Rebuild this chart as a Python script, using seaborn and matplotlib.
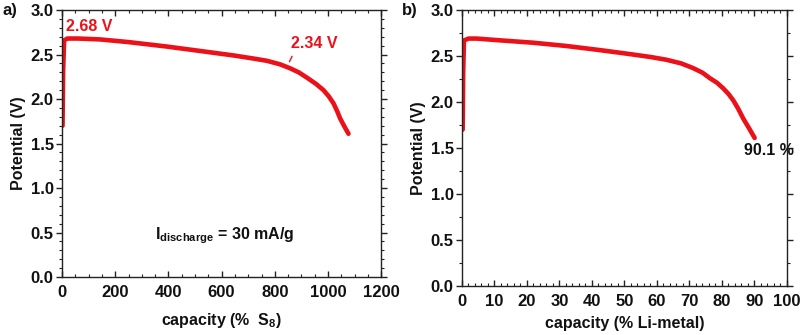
import matplotlib
matplotlib.use("Agg")
import matplotlib.pyplot as plt
import seaborn as sns
import pandas as pd
from matplotlib.ticker import MultipleLocator

# Panel a: capacity (% S8) vs potential (V)
cap_s8 = [2, 4, 8, 20, 60, 143, 250, 394, 520, 645, 720, 770, 820, 858, 890, 921,
          955, 983, 1003, 1021, 1035, 1046, 1062, 1077]
pot_a = [1.70, 2.30, 2.66, 2.68, 2.68, 2.67, 2.64, 2.59, 2.54, 2.49, 2.455, 2.43, 2.39,
         2.345, 2.30, 2.24, 2.17, 2.10, 2.03, 1.95, 1.86, 1.78, 1.69, 1.61]

# Panel b: capacity (% Li-metal) vs potential (V)
cap_li = [0.2, 0.35, 0.6, 2.0, 4.5, 12.0, 21.9, 32.0, 42.4, 52.0, 58.0, 62.9, 67.5,
          71.1, 74.0, 76.3, 78.5, 80.4, 82.0, 83.5, 85.0, 86.6, 88.3, 90.1]
pot_b = [1.70, 2.30, 2.67, 2.69, 2.69, 2.67, 2.645, 2.61, 2.565, 2.52, 2.49, 2.46, 2.42,
         2.37, 2.32, 2.26, 2.21, 2.15, 2.09, 2.02, 1.93, 1.82, 1.72, 1.61]

xticks_a = [0, 200, 400, 600, 800, 1000, 1200]
xticks_b = [0, 10, 20, 30, 40, 50, 60, 70, 80, 90, 100]
yticks = [0.0, 0.5, 1.0, 1.5, 2.0, 2.5, 3.0]

sns.set_theme(style="white")
plt.rcParams['font.family'] = ['Liberation Sans', 'DejaVu Sans']
plt.rcParams['font.weight'] = 'bold'
plt.rcParams['mathtext.fontset'] = 'custom'
plt.rcParams['mathtext.rm'] = 'Liberation Sans:bold'
plt.rcParams['mathtext.bf'] = 'Liberation Sans:bold'

RED = '#ec1019'
TK = 12
fig = plt.figure(figsize=(8, 3.35), dpi=100)
ax1 = fig.add_axes([0.0775, 0.173, 0.399, 0.797])
ax2 = fig.add_axes([0.5775, 0.146, 0.406, 0.824])

df_a = pd.DataFrame({'cap': cap_s8, 'pot': pot_a})
df_b = pd.DataFrame({'cap': cap_li, 'pot': pot_b})
sns.lineplot(data=df_a, x='cap', y='pot', ax=ax1, color=RED, lw=3.3, sort=False)
sns.lineplot(data=df_b, x='cap', y='pot', ax=ax2, color=RED, lw=3.3, sort=False)

for ax, xt, xlim, xminor, yminor in [(ax1, xticks_a, (0, 1200), 50, 0.1),
                                     (ax2, xticks_b, (0, 100), 2, 0.25)]:
    ax.set_xlim(*xlim)
    ax.set_ylim(0, 3.0)
    ax.set_xticks(xt)
    ax.set_yticks(yticks)
    ax.set_yticklabels([f"{v:.1f}" for v in yticks])
    ax.xaxis.set_minor_locator(MultipleLocator(xminor))
    ax.yaxis.set_minor_locator(MultipleLocator(yminor))
    ax.tick_params(axis='x', which='both', direction='in', top=True, bottom=True,
                   labelsize=TK, pad=6)
    ax.tick_params(axis='y', which='both', direction='out', left=True, right=True,
                   labelsize=TK, pad=2)
    ax.tick_params(which='major', length=4, width=1.0, color='#222222')
    ax.tick_params(which='minor', length=2.5, width=0.8, color='#222222')
    for s in ax.spines.values():
        s.set_color('#222222')
        s.set_linewidth(1.0)
    for lab in ax.get_xticklabels() + ax.get_yticklabels():
        lab.set_fontweight('bold')
        lab.set_color('#111111')
    ax.set_ylabel('Potential (V)', fontsize=11.5, fontweight='bold', labelpad=3,
                  color='#111111')

ax1.set_xlabel('capacity (%  S$_8$)', fontsize=11.5, fontweight='bold', labelpad=8,
               color='#111111')
ax2.set_xlabel('capacity (% Li-metal)', fontsize=11.5, fontweight='bold', labelpad=5,
               color='#111111')

ax1.text(15, 2.77, '2.68 V', color=RED, fontsize=11.5, fontweight='bold')
ax1.text(860, 2.57, '2.34 V', color=RED, fontsize=11.5, fontweight='bold')
ax1.plot([855, 865], [2.42, 2.48], color=RED, lw=1.0)
ax1.text(613, 0.42, r'I$_{\mathbf{discharge}}$ = 30 mA/g', fontsize=11.5,
         fontweight='bold', ha='center', color='#111111')
ax2.text(94.5, 1.42, '90.1 %', fontsize=11.5, fontweight='bold', ha='center',
         color='#111111')

fig.text(0.003, 0.955, 'a)', fontsize=12, fontweight='bold', color='#111111')
fig.text(0.503, 0.955, 'b)', fontsize=12, fontweight='bold', color='#111111')

fig.savefig('out.png', dpi=100, facecolor='white')
